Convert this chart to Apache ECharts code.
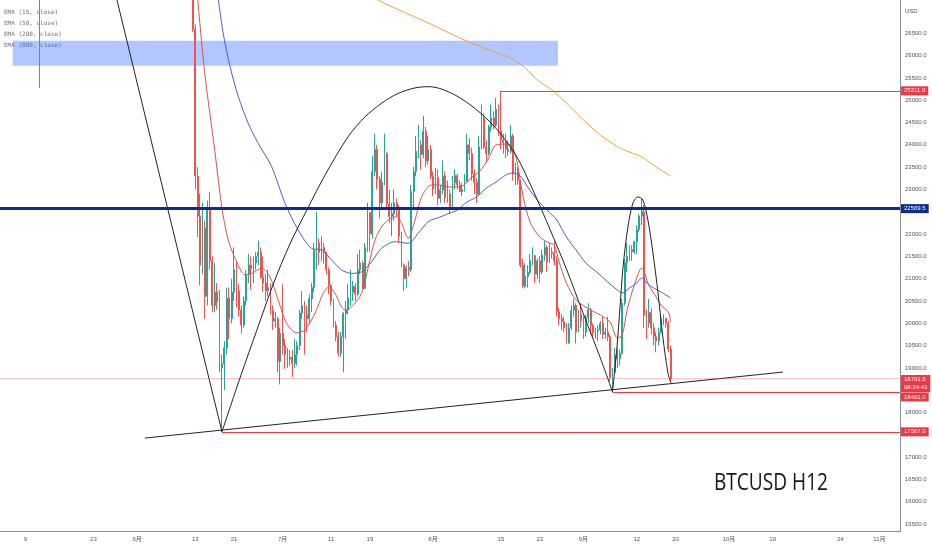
<!DOCTYPE html>
<html><head><meta charset="utf-8">
<script src="https://cdn.jsdelivr.net/npm/echarts@6/dist/echarts.min.js"></script>
<style>html,body{margin:0;padding:0;background:#fff}#c{width:932px;height:550px}</style>
</head><body><div id="c"></div>
<script>
// ---------- data ----------
const firstSlot = '2022-05-04 00:00';   // first H12 slot on the time axis
const slotCount = 371;                   // H12 slots shown (to 2022-11-05)

const tickDates = ['2022-05-09','2022-05-23','2022-06-01','2022-06-13','2022-06-21','2022-07-01','2022-07-11','2022-07-19','2022-08-01','2022-08-15','2022-08-23','2022-09-01','2022-09-12','2022-09-20','2022-10-01','2022-10-10','2022-10-24','2022-11-01'];
const tickTexts = ['9','23','6月','13','21','7月','11','19','8月','15','23','9月','12','20','10月','10','24','11月'];

// H12 candles [open, close, low, high]
const candlesMay = [[29000, 28500, 25274, 30000]];               // from 2022-05-12 00:00
const candlesJun = [                                                 // from 2022-06-12 12:00
 [27900,26590,26530,28100],[26590,23300,23000,26700],[23300,22400,21930,23500],
 [22400,21300,20850,22900],[21300,22130,21100,22700],[22130,20600,20100,22300],[20600,22600,20400,22750],
 [22600,21400,21200,22950],[21400,20400,20250,21500],[20400,20700,20250,21350],[20700,20480,20300,20900],
 [20480,19000,18900,20750],[19000,19100,17567,19300],[19100,19450,18500,19600],[19450,20560,19300,20800],
 [20560,20100,19650,20800],[20100,20700,20000,21000],[20700,21200,20500,21700],[21200,20720,20350,21400],
 [20720,20300,20150,20870],[20300,19960,19770,20400],[19960,20500,19900,20600],[20500,21100,20400,21200],
 [21100,21300,20900,21550],[21300,21230,20750,21500],[21230,21350,20900,21500],[21350,21500,21200,21600],
 [21500,21600,21300,21850],[21600,21030,21000,21700],[21030,20900,20700,21500],[20900,20730,20500,21100],
 [20730,20800,20600,21200],[20800,20280,20200,20900],[20280,20050,19850,20400],[20050,20100,19900,20250],
 [20100,19150,18900,20150],[19150,19780,18630,19900]
];
const candlesJul = [                                                 // from 2022-07-01 00:00
 [19780,19500,19300,20870],[19500,19300,18980,19650],[19300,19200,19000,19450],[19200,19240,19050,19400],
 [19240,19100,18800,19400],[19100,19300,19000,19650],[19300,19500,19050,19600],[19500,20230,19400,20300],
 [20230,20400,20100,20720],[20400,20190,19300,20500],[20190,20100,19800,20400],[20100,20550,20000,20650],
 [20550,20800,20250,20900],[20800,21640,20700,21800],[21640,21800,21200,22500],[21800,21590,21300,21900],
 [21590,21700,21400,21950],[21700,21600,21330,21800],[21600,21200,21100,21600],[21200,20850,20650,21250],
 [20850,20500,20400,20870],[20500,19960,19900,20550],[19960,19700,19600,20050],[19700,19330,19250,19800],
 [19330,19700,19250,19800],[19700,20220,18900,20250],[20220,20300,19650,20500],[20300,20580,20200,20880],
 [20580,20700,20400,21200],[20700,20830,20500,20950],[20830,20650,20500,20900],[20650,21200,20600,21550],
 [21200,21350,21100,21650],[21350,20780,20750,21400],[20780,21700,20770,21800],[21700,22480,21600,22700],
 [22480,22000,21600,22500],[22000,23400,21900,23750],[23400,23900,23300,24250],[23900,23230,23000,24000],
 [23230,22700,22350,23300],[22700,23160,22600,23400],[23160,23800,23100,24250],[23800,22680,22600,23850],
 [22680,22400,22250,22990],[22400,22460,21950,22700],[22460,22700,22300,23000],[22700,22580,22400,22800],
 [22580,21950,21800,22650],[21950,21310,21250,22050],[21310,21000,20720,21340],[21000,21250,20800,21300],
 [21250,21200,21050,21400],[21200,22950,21150,23100],[22950,23400,22600,23500],[23400,23850,23300,24200],
 [23850,24000,23700,24450],[24000,23780,23450,24100],[23780,24300,23700,24650],[24300,23640,23500,24400],
 [23640,23900,23550,24200],[23900,23290,23230,24000]
];
const candlesAug = [                                                 // from 2022-08-01 00:00
 [23290,23000,22850,23400],[23000,23270,22900,23480],[23270,22800,22650,23450],[22800,22990,22700,23100],
 [22990,23300,22900,23650],[23300,22820,22700,23400],[22820,22900,22700,23200],[22900,22620,22450,23000],
 [22620,23150,22600,23300],[23150,23310,23000,23450],[23310,23100,23000,23350],[23100,22950,22950,23200],
 [22950,23000,22850,23150],[23000,23170,22950,23350],[23170,24000,23150,24250],[24000,23810,23650,24150],
 [23810,23350,23200,23940],[23350,23160,22900,23450],[23160,22900,22700,23250],[22900,23950,22850,24200],
 [23950,24600,23900,24900],[24600,23950,23900,24700],[23950,23800,23600,24100],[23800,24400,23750,24450],
 [24400,24600,24300,24900],[24600,24440,24350,24750],[24440,24800,24400,25050],[24800,24300,24200,24900],
 [24300,24100,23900,25211],[24100,24050,23800,24250],[24050,23900,23700,24250],[23900,23850,23750,24100],
 [23850,24200,23800,24450],[24200,23340,23200,24250],[23340,23400,23100,23600],[23400,23200,23100,23500],
 [23200,21300,21250,23200],[21300,20830,20800,21450],[20830,21050,20780,21350],[21050,21140,20800,21300],
 [21140,21400,21100,21550],[21400,21520,21300,21700],[21520,21100,20900,21520],[21100,21400,21000,21450],
 [21400,21150,20900,21500],[21150,21530,21100,21650],[21530,21700,21400,21850],[21700,21370,21150,21750],
 [21370,21600,21350,21800],[21600,21570,21450,21700],[21570,21400,21300,21850],[21400,20260,20150,21500],
 [20260,20100,19950,20350],[20100,20040,19850,20200],[20040,19900,19800,20150],[19900,19550,19550,20000],
 [19550,19900,19550,20000],[19900,20290,19850,20400],[20290,20400,20150,20550],[20400,19800,19550,20450],
 [19800,20200,19800,20300],[20200,20050,19900,20450]
];
const candlesSep = [                                                 // from 2022-09-01 00:00
 [20050,19800,19650,20150],[19800,20130,19700,20200],[20130,20300,20000,20450],[20300,19950,19750,20350],
 [19950,19800,19700,20000],[19800,19830,19650,19900],[19830,19850,19600,19950],[19850,20000,19750,20050],
 [20000,19750,19650,20150],[19750,19800,19650,19900],[19800,19700,19600,20150],[19700,18790,18700,19750],
 [18790,18900,18461,19000],[18900,19290,18850,19450],[19290,19200,19000,19450],[19200,19320,19050,19400],
 [19320,20450,19300,20550],[20450,21360,20400,21450],[21360,21500,21150,21800],[21500,21650,21400,21750],
 [21650,21600,21400,21750],[21600,21830,21550,21850],[21830,22100,21550,22200],[22100,22400,22050,22450],
 [22400,22500,22200,22790],[22500,20180,19900,22650],[20180,20000,19650,20300],[20000,20240,19900,20550],
 [20240,19900,19750,20330],[19900,19700,19500,20000],[19700,19600,19350,19800],[19600,19800,19500,19900],
 [19800,20100,19780,20200],[20100,20110,19950,20200],[20110,20000,19900,20120],[20000,19420,19350,20050],
 [19420,18761.5,18700,19500]
];

const ema15 = [['2022-06-13 12:00',27250],['2022-06-15 00:00',25565],['2022-06-17 01:00',23850],['2022-06-18 11:00',22612],['2022-06-19 19:00',21866],['2022-06-21 13:00',21379],['2022-06-23 06:00',21081],['2022-06-24 15:00',21119],['2022-06-26 16:00',21231],['2022-06-28 09:00',21043],['2022-06-30 02:00',20521],['2022-07-01 20:00',19998],['2022-07-03 21:00',19787],['2022-07-05 14:00',19848],['2022-07-07 16:00',20222],['2022-07-09 09:00',20671],['2022-07-10 15:00',20819],['2022-07-11 19:00',20671],['2022-07-13 20:00',20296],['2022-07-15 06:00',20370],['2022-07-17 07:00',20671],['2022-07-18 16:00',21267],['2022-07-20 01:00',21866],['2022-07-21 10:00',22164],['2022-07-22 19:00',22314],['2022-07-24 12:00',22388],['2022-07-25 13:00',22240],['2022-07-26 21:00',21904],['2022-07-28 07:00',22314],['2022-07-29 16:00',22837],['2022-07-31 17:00',23099],['2022-08-02 10:00',23099],['2022-08-04 12:00',23054],['2022-08-07 00:00',23076],['2022-08-09 00:00',23278],['2022-08-10 12:00',23390],['2022-08-12 12:00',23704],['2022-08-14 00:00',23996],['2022-08-16 12:00',24018],['2022-08-18 00:00',23772],['2022-08-19 12:00',22875],['2022-08-21 00:00',22270],['2022-08-23 00:00',21933],['2022-08-25 00:00',21798],['2022-08-26 00:00',21754],['2022-08-27 00:00',21373],['2022-08-28 12:00',20902],['2022-08-30 12:00',20521],['2022-09-02 12:00',20297],['2022-09-04 12:00',20185],['2022-09-06 12:00',20028],['2022-09-08 00:00',19670],['2022-09-09 00:00',19737],['2022-09-10 00:00',20297],['2022-09-11 12:00',20857],['2022-09-13 00:00',21238],['2022-09-14 12:00',20857],['2022-09-16 00:00',20588],['2022-09-17 00:00',20409],['2022-09-18 12:00',20252],['2022-09-19 00:00',20028]];
const ema50 = [['2022-06-17 18:00',27250],['2022-06-18 18:00',26500],['2022-06-20 04:00',25751],['2022-06-21 21:00',25079],['2022-06-23 22:00',24482],['2022-06-25 23:00',24034],['2022-06-28 18:00',23509],['2022-07-01 12:00',22689],['2022-07-04 05:00',22090],['2022-07-06 23:00',21680],['2022-07-09 01:00',21642],['2022-07-11 03:00',21417],['2022-07-13 04:00',21193],['2022-07-15 06:00',21119],['2022-07-17 07:00',21155],['2022-07-19 08:00',21379],['2022-07-21 10:00',21680],['2022-07-24 04:00',21828],['2022-07-26 21:00',21792],['2022-07-28 23:00',22016],['2022-07-31 00:00',22276],['2022-08-02 10:00',22380],['2022-08-04 00:00',22450],['2022-08-06 00:00',22538],['2022-08-08 00:00',22718],['2022-08-10 00:00',22830],['2022-08-12 00:00',23032],['2022-08-14 00:00',23166],['2022-08-16 00:00',23323],['2022-08-17 12:00',23368],['2022-08-19 00:00',23301],['2022-08-20 12:00',23054],['2022-08-22 12:00',22763],['2022-08-24 12:00',22538],['2022-08-26 12:00',22314],['2022-08-28 12:00',21933],['2022-08-30 12:00',21642],['2022-09-01 12:00',21350],['2022-09-04 00:00',21126],['2022-09-06 00:00',20924],['2022-09-08 00:00',20745],['2022-09-09 00:00',20678],['2022-09-10 12:00',20790],['2022-09-12 00:00',20902],['2022-09-13 00:00',21014],['2022-09-14 12:00',20857],['2022-09-17 00:00',20700],['2022-09-19 00:00',20566]];
const ema200 = [['2022-07-20 12:00',27250],['2022-07-25 00:00',27022],['2022-07-31 12:00',26709],['2022-08-06 12:00',26395],['2022-08-12 12:00',26126],['2022-08-17 00:00',25946],['2022-08-20 00:00',25722],['2022-08-22 12:00',25453],['2022-08-25 12:00',25229],['2022-08-28 12:00',24938],['2022-09-01 00:00',24556],['2022-09-04 12:00',24220],['2022-09-08 12:00',23929],['2022-09-11 00:00',23816],['2022-09-13 00:00',23727],['2022-09-16 00:00',23502],['2022-09-19 00:00',23301]];

// drawings
const bigArc = [['2022-06-18 12:00',17567],['2022-06-22 05:00',18772],['2022-06-25 22:00',19915],['2022-06-29 00:00',20857],['2022-07-02 12:00',21776],['2022-07-06 05:00',22583],['2022-07-09 18:00',23323],['2022-07-14 11:00',24175],['2022-07-17 23:00',24623],['2022-07-21 11:00',24937],['2022-07-24 18:00',25150],['2022-07-28 06:00',25274],['2022-07-30 23:00',25303],['2022-08-02 10:00',25262],['2022-08-05 22:00',25094],['2022-08-09 06:00',24848],['2022-08-12 03:00',24579],['2022-08-14 19:00',24265],['2022-08-18 07:00',23727],['2022-08-21 14:00',22987],['2022-08-25 02:00',22113],['2022-08-28 14:00',21193],['2022-08-31 22:00',20229],['2022-09-04 10:00',19243],['2022-09-07 00:00',18461]];
const smallArc = [['2022-09-07 00:00',18461],['2022-09-07 22:00',19467],['2022-09-08 13:00',20364],['2022-09-09 04:00',21260],['2022-09-10 04:00',22157],['2022-09-11 05:00',22695],['2022-09-12 06:00',22830],['2022-09-13 06:00',22763],['2022-09-14 07:00',22314],['2022-09-15 08:00',21574],['2022-09-16 09:00',20678],['2022-09-17 09:00',19691],['2022-09-18 10:00',18884],['2022-09-19 01:00',18660]];
const crashLine = [['2022-05-27 00:00',27630],['2022-06-18 12:00',17567]];
const supportLine = [['2022-06-02 15:00',17427],['2022-10-12 03:00',18906]];

const levelPrices = [25211.0, 22569.5, 18461.0, 17567.0];
const levelStarts = ['2022-08-15 00:00', null, '2022-09-07 00:00', '2022-06-18 12:00'];
const lastPrice = 18761.5;
const countdown = '08:34:43';
const zoneTimes = ['2022-05-06 09:00', '2022-08-26 18:00'];
const zonePrices = [26330, 25770];

const legendLabels = ['EMA (15, close)', 'EMA (50, close)', 'EMA (200, close)', 'EMA (800, close)'];
const chartTitle = 'BTCUSD H12';
const yRange = [15328, 27246];

// ---------- build ----------
const H12 = 12 * 3600 * 1000;
function ts(s) {
  const [d, t] = s.split(' ');
  const [Y, M, D] = d.split('-').map(Number);
  const [h, m] = (t || '00:00').split(':').map(Number);
  return Date.UTC(Y, M - 1, D, h, m);
}
function fmt(ms) {
  const d = new Date(ms), p = n => String(n).padStart(2, '0');
  return d.getUTCFullYear() + '-' + p(d.getUTCMonth() + 1) + '-' + p(d.getUTCDate()) + ' ' + p(d.getUTCHours()) + ':' + p(d.getUTCMinutes());
}
const t0 = ts(firstSlot);
const categories = Array.from({length: slotCount}, (_, i) => fmt(t0 + i * H12));
const candleData = categories.map(() => '-');
function place(start, rows) { const k = Math.round((ts(start) - t0) / H12); rows.forEach((r, j) => { candleData[k + j] = r; }); }
place('2022-05-12 00:00', candlesMay);
place('2022-06-12 12:00', candlesJun);
place('2022-07-01 00:00', candlesJul);
place('2022-08-01 00:00', candlesAug);
place('2022-09-01 00:00', candlesSep);

const tickMap = {};
tickDates.forEach((d, i) => { tickMap[d + ' 00:00'] = tickTexts[i]; });
const xMin = t0 - H12 / 2, xMax = t0 + (slotCount - 0.5) * H12;
const pts = arr => arr.map(([t, v]) => [ts(t), v]);

const RED = '#f23645', NAVY = '#0c2d8c';
function boxLabel(text, bg, dy) {
  return {show: true, position: 'end', distance: 1, formatter: text, color: '#fff', backgroundColor: bg,
    fontSize: 6, lineHeight: 8, padding: [1, 3, 0, 3], offset: [0, dy || 0]};
}
const levelColors = [RED, NAVY, RED, RED];
const levelWidths = [1, 3, 1, 1];
const levelOffsets = [0, 0, 5, 0];
const markLines = levelPrices.map((p, i) => [
  {coord: [levelStarts[i] ? ts(levelStarts[i]) : xMin, p], lineStyle: {color: levelColors[i], width: levelWidths[i], type: 'solid'},
   label: boxLabel(p.toFixed(1), levelColors[i], levelOffsets[i])},
  {coord: [xMax, p]}
]);
markLines.unshift([
  {coord: [xMin, lastPrice], lineStyle: {color: 'rgba(242,54,69,0.28)', width: 1, type: 'solid'},
   label: boxLabel(lastPrice.toFixed(1) + '\n' + countdown, RED, 5)},
  {coord: [xMax, lastPrice]}
]);

const lineBase = {type: 'line', xAxisIndex: 1, yAxisIndex: 0, symbol: 'none', silent: true, clip: true};

const chart = echarts.init(document.getElementById('c'), null, {renderer: 'canvas'});
chart.setOption({
  animation: false,
  backgroundColor: '#ffffff',
  textStyle: {fontFamily: "'Liberation Sans', Arial, 'Noto Sans CJK JP', sans-serif"},
  grid: {left: 0, right: 32, top: 0, bottom: 18.3},
  xAxis: [
    {type: 'category', data: categories, boundaryGap: true,
     axisLine: {lineStyle: {color: '#8c8c8c', width: 1}}, axisTick: {show: false}, splitLine: {show: false},
     axisLabel: {interval: (i, v) => v in tickMap, formatter: v => tickMap[v] || '', fontSize: 6, color: '#50535e', margin: 5,
       fontFamily: "'Liberation Sans', 'Noto Sans CJK JP', sans-serif"}},
    {type: 'value', min: xMin, max: xMax, show: false}
  ],
  yAxis: [{type: 'value', position: 'right', min: yRange[0], max: yRange[1], splitNumber: 24,
    axisLine: {show: true, lineStyle: {color: '#8c8c8c', width: 1}}, axisTick: {show: false}, splitLine: {show: false},
    axisLabel: {fontSize: 6, color: '#50535e', margin: 5, showMinLabel: false, showMaxLabel: false,
      formatter: v => v === 27000 ? 'USD' : v.toFixed(1)}}],
  series: [
    {type: 'candlestick', xAxisIndex: 0, yAxisIndex: 0, data: candleData, barWidth: '55%', clip: true, silent: true,
     itemStyle: {color: '#26a69a', color0: '#ef5350', borderColor: '#26a69a', borderColor0: '#ef5350', borderWidth: 1}},
    Object.assign({}, lineBase, {name: 'EMA15', data: pts(ema15), smooth: 0.3, lineStyle: {color: '#d2574a', width: 1}}),
    Object.assign({}, lineBase, {name: 'EMA50', data: pts(ema50), smooth: 0.3, lineStyle: {color: '#4a60c4', width: 1}}),
    Object.assign({}, lineBase, {name: 'EMA200', data: pts(ema200), smooth: 0.3, lineStyle: {color: '#f5a038', width: 1}}),
    Object.assign({}, lineBase, {data: pts(bigArc), smooth: 0.3, lineStyle: {color: '#222', width: 1}}),
    Object.assign({}, lineBase, {data: pts(smallArc), smooth: 0.3, lineStyle: {color: '#222', width: 1}}),
    Object.assign({}, lineBase, {data: pts(crashLine), lineStyle: {color: '#222', width: 1}}),
    Object.assign({}, lineBase, {data: pts(supportLine), lineStyle: {color: '#222', width: 1}, z: 3,
      markArea: {silent: true, itemStyle: {color: 'rgba(41,98,255,0.36)'},
        data: [[{coord: [ts(zoneTimes[0]), zonePrices[0]]}, {coord: [ts(zoneTimes[1]), zonePrices[1]]}]]},
      markLine: {silent: true, symbol: ['none', 'none'], animation: false, data: markLines}})
  ],
  graphic: legendLabels.map((s, i) => ({type: 'text', left: 4, top: 9 + i * 11.3, silent: true,
      style: {text: s, fill: '#6b6e78', fontSize: 6, fontFamily: "'DejaVu Sans Mono', monospace"}}))
    .concat([{type: 'text', x: 771, y: 483, scaleX: 0.78, silent: true,
      style: {text: chartTitle, fill: '#131722', fontSize: 24.5, align: 'center', verticalAlign: 'middle',
        fontFamily: "'Open Sans', 'Noto Sans', sans-serif"}}])
});
</script>
</body></html>
